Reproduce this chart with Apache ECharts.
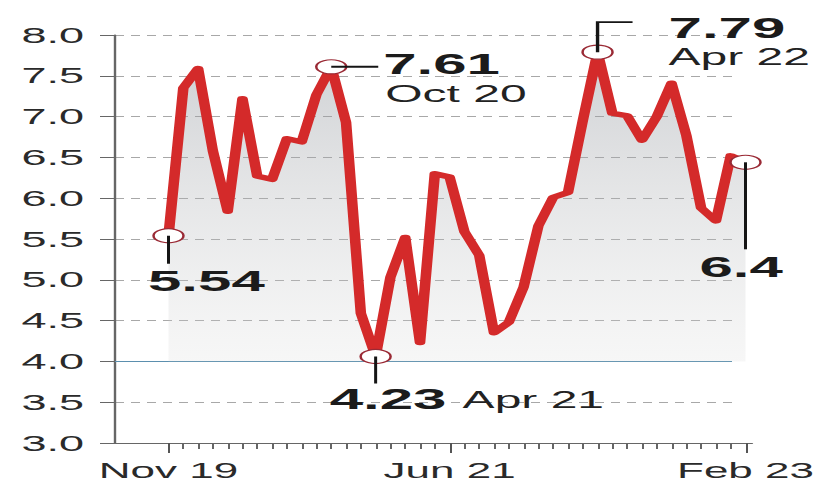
<!DOCTYPE html>
<html>
<head>
<meta charset="utf-8">
<script src="https://cdn.jsdelivr.net/npm/echarts@6/dist/echarts.min.js"></script>
<style>
html,body{margin:0;padding:0;background:#fff;}
#wrap{width:820px;height:486px;overflow:hidden;position:relative;background:#fff;}
#chart{width:410px;height:486px;transform:scaleX(2);transform-origin:0 0;}
</style>
</head>
<body>
<div id="wrap"><div id="chart"></div></div>
<script>
// ---- data ----
const months = ['Nov 19','Dec 19','Jan 20','Feb 20','Mar 20','Apr 20','May 20','Jun 20','Jul 20','Aug 20','Sep 20','Oct 20','Nov 20','Dec 20','Jan 21','Feb 21','Mar 21','Apr 21','May 21','Jun 21','Jul 21','Aug 21','Sep 21','Oct 21','Nov 21','Dec 21','Jan 22','Feb 22','Mar 22','Apr 22','May 22','Jun 22','Jul 22','Aug 22','Sep 22','Oct 22','Nov 22','Dec 22','Jan 23','Feb 23'];
const inflation = [5.54,7.35,7.59,6.58,5.84,7.22,6.27,6.23,6.73,6.69,7.27,7.61,6.93,4.59,4.06,5.03,5.52,4.23,6.30,6.26,5.59,5.30,4.35,4.48,4.91,5.66,6.01,6.07,6.95,7.79,7.04,7.01,6.71,7.00,7.41,6.77,5.88,5.72,6.52,6.44];
const xLabelIdx = [0, 19, 39];
const yMin = 3, yMax = 8, yStep = 0.5;
const refLevel = 4;
const markedIdx = [0, 11, 14, 29, 39];
const noteNumbers = ['5.54', '7.61', '4.23', '7.79', '6.4'];
const noteDates = ['', 'Oct 20', 'Apr 21', 'Apr 22', ''];

const FONT = '"Liberation Sans", Arial, sans-serif';
const chart = echarts.init(document.getElementById('chart'), null, {renderer: 'svg'});

const seriesData = inflation.map((v, i) => markedIdx.indexOf(i) >= 0
  ? {value: v, symbol: 'circle', symbolSize: [15, 14],
     itemStyle: {color: '#ffffff', borderColor: '#9a2a35', borderWidth: 1.2}}
  : {value: v, symbol: 'none'});

const gridTop = 35, gridBottom = 43;
chart.setOption({
  animation: false,
  grid: [
    {left: 84.25, right: 37.2, top: gridTop, bottom: gridBottom},
    {left: 57.5, right: 44, top: gridTop, bottom: gridBottom},
    {left: 57.5, right: 34, top: gridTop, bottom: gridBottom}
  ],
  xAxis: [
    {type: 'category', gridIndex: 0, data: months, boundaryGap: false, position: 'bottom',
     axisLine: {show: false},
     axisTick: {show: true, interval: 0, length: 6, lineStyle: {color: '#666', width: 1}},
     axisLabel: {show: false}, splitLine: {show: false}},
    {type: 'category', gridIndex: 0, data: months, boundaryGap: false, position: 'bottom',
     axisLine: {show: false},
     axisTick: {show: true, length: 10, interval: (i) => xLabelIdx.indexOf(i) >= 0, lineStyle: {color: '#555', width: 1}},
     axisLabel: {show: true, interval: (i) => xLabelIdx.indexOf(i) >= 0, fontSize: 22, fontFamily: FONT, color: '#2a2a2a', margin: 16},
     splitLine: {show: false}},
    {type: 'value', gridIndex: 1, min: 0, max: 1, show: false},
    {type: 'value', gridIndex: 2, min: 0, max: 1, axisLine: {show: true, lineStyle: {color: '#666', width: 1.2}},
     axisTick: {show: false}, axisLabel: {show: false}, splitLine: {show: false}}
  ],
  yAxis: [
    {type: 'value', gridIndex: 0, min: yMin, max: yMax, interval: yStep, show: false},
    {type: 'value', gridIndex: 1, min: yMin, max: yMax, interval: yStep,
     axisLine: {show: true, lineStyle: {color: '#666', width: 1.2}},
     axisTick: {show: true, length: 7.5, lineStyle: {color: '#666', width: 1}},
     axisLabel: {fontSize: 22.5, fontFamily: FONT, color: '#2a2a2a', margin: 15.5, formatter: (v) => v.toFixed(1)},
     splitLine: {show: true, showMinLine: false, lineStyle: {color: '#a8a8a8', type: [4.5, 3.5], width: 1}}},
    {type: 'value', gridIndex: 2, min: yMin, max: yMax, show: false}
  ],
  series: [
    {type: 'line', name: 'ref', xAxisIndex: 2, yAxisIndex: 1, data: [], silent: true,
     markLine: {silent: true, symbol: 'none', label: {show: false},
       lineStyle: {color: '#5b8fae', type: 'solid', width: 1}, data: [{yAxis: refLevel}]}},
    {type: 'line', name: 'CPI', xAxisIndex: 0, yAxisIndex: 0, data: seriesData,
     showAllSymbol: true, z: 5,
     lineStyle: {color: '#d42a2a', width: 5.3, join: 'round', cap: 'round'},
     areaStyle: {origin: refLevel, color: {type: 'linear', x: 0, y: 0, x2: 0, y2: 1,
       colorStops: [{offset: 0, color: 'rgba(140,145,152,0.6)'}, {offset: 1, color: 'rgba(215,215,215,0.3)'}]}}}
  ]
});

// ---- annotations, positioned from the library's scales ----
const P = markedIdx.map((i) => chart.convertToPixel({gridIndex: 0}, [i, inflation[i]]));
const boldT = (txt, x, y) => ({type: 'text', z: 100, style: {text: txt, x: x, y: y, fontSize: 30, fontWeight: 'bold', fontFamily: FONT, fill: '#1b1b1b', align: 'left', verticalAlign: 'middle', textAlign: 'left', textVerticalAlign: 'middle'}});
const regT = (txt, x, y) => ({type: 'text', z: 100, style: {text: txt, x: x, y: y, fontSize: 24, fontFamily: FONT, fill: '#222', align: 'left', verticalAlign: 'middle', textAlign: 'left', textVerticalAlign: 'middle'}});
const vLine = (x, y1, y2) => ({type: 'line', z: 100, shape: {x1: x, y1: y1, x2: x, y2: y2}, style: {stroke: '#151515', lineWidth: 1.5}});
const g = [];
// 5.54
g.push(vLine(P[0][0], P[0][1], P[0][1] + 28));
g.push(boldT(noteNumbers[0], P[0][0] - 10.25, P[0][1] + 45));
// 7.61 Oct 20
g.push({type: 'line', z: 100, shape: {x1: P[1][0], y1: P[1][1], x2: P[1][0] + 23.5, y2: P[1][1]}, style: {stroke: '#151515', lineWidth: 2}});
g.push(boldT(noteNumbers[1], P[1][0] + 26, P[1][1] - 3.5));
g.push(regT(noteDates[1], P[1][0] + 27, P[1][1] + 27));
// 4.23 Apr 21
g.push(vLine(P[2][0], P[2][1], P[2][1] + 27));
g.push(boldT(noteNumbers[2], P[2][0] - 23, P[2][1] + 42));
g.push(regT(noteDates[2], P[2][0] + 43.5, P[2][1] + 43));
// 7.79 Apr 22
g.push({type: 'polyline', z: 100, shape: {points: [[P[3][0], P[3][1]], [P[3][0], P[3][1] - 30], [P[3][0] + 17.5, P[3][1] - 30]]}, style: {stroke: '#151515', lineWidth: 1.7, fill: null}});
g.push(boldT(noteNumbers[3], P[3][0] + 35.5, P[3][1] - 25));
g.push(regT(noteDates[3], P[3][0] + 35.5, P[3][1] + 5));
// 6.4
g.push(vLine(P[4][0], P[4][1], P[4][1] + 87));
g.push(boldT(noteNumbers[4], P[4][0] - 23, P[4][1] + 104));
chart.setOption({graphic: g});
</script>
</body>
</html>
